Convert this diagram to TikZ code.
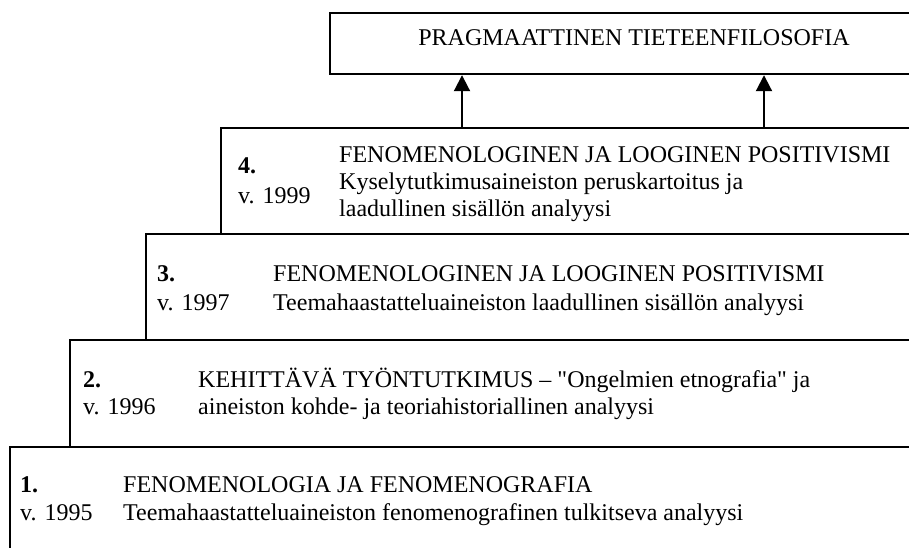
\documentclass[tikz,border=0pt]{standalone}
\usepackage{fontspec}
\setmainfont{Liberation Serif}[Ligatures=TeXOff]
\usetikzlibrary{arrows.meta}
\begin{document}
\begin{tikzpicture}[x=1pt,y=-1pt,
  stepbox/.style={draw, line width=2.2pt, rectangle, anchor=north west,
    minimum width=1000pt, minimum height=#1, inner sep=0pt},
  txt/.style={anchor=base west, inner sep=0pt, font=\fontsize{24}{27}\selectfont},
  num/.style={txt, font=\fontsize{24}{27}\selectfont\bfseries},
  arr/.style={line width=2pt, -{Triangle[width=16pt,length=16pt]}}]
\useasboundingbox (0,0) rectangle (909,547);
\clip (0,0) rectangle (909,547);
% boxes
\node[stepbox=61pt]  (top) at (329,12) {};
\node[stepbox=106pt] (s4) at (220,127) {};
\node[stepbox=106pt] (s3) at (145,233) {};
\node[stepbox=107pt] (s2) at (69,339) {};
\node[stepbox=200pt] (s1) at (9,446) {};
% arrows
\coordinate (a1) at (462,0);
\coordinate (a2) at (764,0);
\draw[arr] (s4.north -| a1) -- (top.south -| a1);
\draw[arr] (s4.north -| a2) -- (top.south -| a2);
% top text
\node[txt, anchor=base] (ttop) at (634,45) {PRAGMAATTINEN TIETEENFILOSOFIA};
% step 4
\node[num] (n4) at (238,173) {4.};
\node[txt] (y4) at (238,203) {v. 1999};
\node[txt] (t4a) at (339,162) {FENOMENOLOGINEN JA LOOGINEN POSITIVISMI};
\node[txt] (t4b) at (339,189) {Kyselytutkimusaineiston peruskartoitus ja};
\node[txt] (t4c) at (339,216) {laadullinen sisällön analyysi};
% step 3
\node[num] (n3) at (157,281) {3.};
\node[txt] (y3) at (157,310) {v. 1997};
\node[txt] (t3a) at (273,281) {FENOMENOLOGINEN JA LOOGINEN POSITIVISMI};
\node[txt] (t3b) at (273,310) {Teemahaastatteluaineiston laadullinen sisällön analyysi};
% step 2
\node[num] (n2) at (83,387) {2.};
\node[txt] (y2) at (83,414) {v. 1996};
\node[txt] (t2a) at (198,387) {KEHITTÄVÄ TYÖNTUTKIMUS – "Ongelmien etnografia" ja};
\node[txt] (t2b) at (198,414) {aineiston kohde- ja teoriahistoriallinen analyysi};
% step 1
\node[num] (n1) at (20,492) {1.};
\node[txt] (y1) at (20,520) {v. 1995};
\node[txt] (t1a) at (123,492) {FENOMENOLOGIA JA FENOMENOGRAFIA};
\node[txt] (t1b) at (123,520) {Teemahaastatteluaineiston fenomenografinen tulkitseva analyysi};
\end{tikzpicture}
\end{document}
